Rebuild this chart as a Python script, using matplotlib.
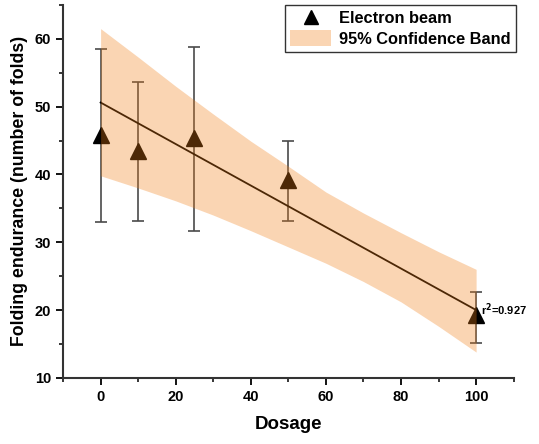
import numpy as np
import matplotlib
matplotlib.use("Agg")
import matplotlib.pyplot as plt
from matplotlib.patches import Patch
from matplotlib.lines import Line2D
from matplotlib.ticker import MultipleLocator

dosage = [0, 10, 25, 50, 100]
folds = [45.8, 43.5, 45.4, 39.2, 19.3]
err_low = [33.0, 33.1, 31.7, 33.2, 15.1]
err_high = [58.5, 53.6, 58.8, 44.9, 22.7]

fit_x = [0, 100]
fit_y = [50.6, 20.0]

band_x = [0, 10, 20, 30, 40, 50, 60, 70, 80, 90, 100]
band_upper = [61.5, 57.3, 53.0, 48.9, 44.9, 41.2, 37.4, 34.3, 31.4, 28.6, 26.0]
band_lower = [39.8, 38.0, 36.1, 34.0, 31.7, 29.3, 26.9, 24.2, 21.2, 17.6, 13.8]

plt.rcParams['font.family'] = ['Liberation Sans', 'DejaVu Sans']
plt.rcParams['font.weight'] = 'bold'

fig = plt.figure(figsize=(5.39, 4.44), dpi=100)
ax = fig.add_axes([0.117, 0.149, 0.836, 0.840])

yerr = [np.array(folds) - np.array(err_low), np.array(err_high) - np.array(folds)]
ax.errorbar(dosage, folds, yerr=yerr, fmt='none', ecolor='#4a4a4a', elinewidth=1.2,
            capsize=4, capthick=1.2, zorder=2)
ax.plot(dosage, folds, linestyle='none', marker='^', markersize=11, color='black', zorder=3)
ax.plot(fit_x, fit_y, color='black', linewidth=1.3, zorder=3)
ax.fill_between(band_x, band_lower, band_upper, color='#F07D14', alpha=0.32, linewidth=0, zorder=4)

ax.text(101.3, 20.0, 'r$^\\mathbf{2}$=0.927', fontsize=8, fontweight='bold', va='center', ha='left')

ax.set_xlim(-10, 110)
ax.set_ylim(10, 65)
ax.xaxis.set_major_locator(MultipleLocator(20))
ax.xaxis.set_minor_locator(MultipleLocator(10))
ax.yaxis.set_major_locator(MultipleLocator(10))
ax.yaxis.set_minor_locator(MultipleLocator(5))
ax.tick_params(which='major', direction='out', length=5, width=1.3, labelsize=10.5, colors='black')
ax.tick_params(which='minor', direction='out', length=3, width=1.1)
for lab in ax.get_xticklabels() + ax.get_yticklabels():
    lab.set_fontweight('bold')

for s in ['top', 'right']:
    ax.spines[s].set_visible(False)
for s in ['left', 'bottom']:
    ax.spines[s].set_linewidth(1.5)
    ax.spines[s].set_color('#333333')

ax.set_xlabel('Dosage', fontsize=13.5, fontweight='bold', labelpad=9)
ax.set_ylabel('Folding endurance (number of folds)', fontsize=12.8, fontweight='bold', labelpad=5)

handles = [Line2D([], [], linestyle='none', marker='^', markersize=10, color='black'),
           Patch(facecolor='#F07D14', alpha=0.32, edgecolor='none')]
leg = ax.legend(handles, ['Electron beam', '95% Confidence Band'], loc='upper right',
                bbox_to_anchor=(1.005, 1.0), fontsize=11.8, frameon=True, fancybox=False,
                edgecolor='black', borderpad=0.3, handlelength=2.5, handleheight=1.1,
                handletextpad=0.5, labelspacing=0.25, borderaxespad=0)
leg.get_frame().set_linewidth(1.0)
for t in leg.get_texts():
    t.set_fontweight('bold')

fig.savefig('out.png', dpi=100)
